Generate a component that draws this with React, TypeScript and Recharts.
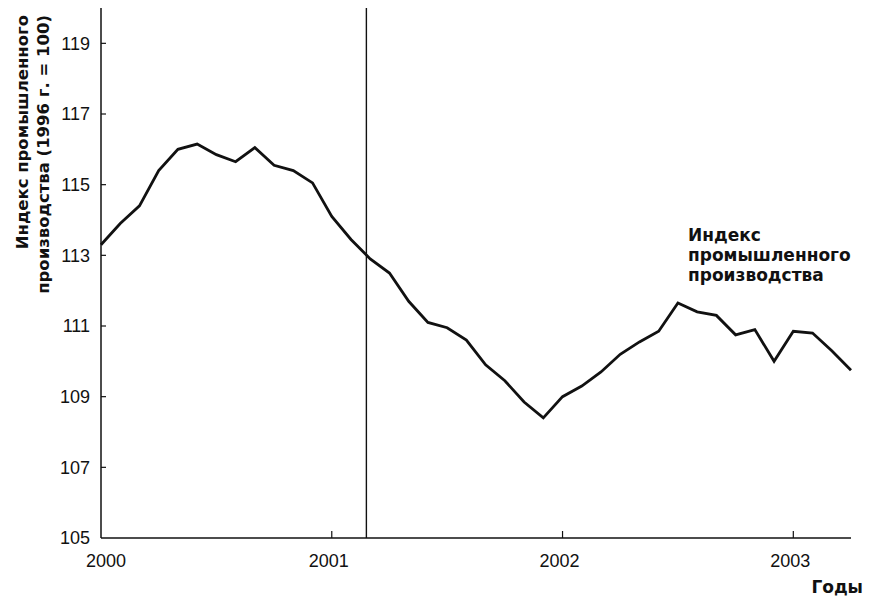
import React from 'react';
import { LineChart, Line, XAxis, YAxis, ReferenceLine } from 'recharts';

// month index from January 2000
const months = [
  0, 1, 2, 3, 4, 5, 6, 7, 8, 9, 10, 11,
  12, 13, 14, 15, 16, 17, 18, 19, 20, 21, 22, 23,
  24, 25, 26, 27, 28, 29, 30, 31, 32, 33, 34, 35,
  36, 37, 38, 39,
];
const indexValues = [
  113.3, 113.9, 114.4, 115.4, 116.0, 116.15, 115.85, 115.65, 116.05, 115.55, 115.4, 115.05,
  114.1, 113.45, 112.9, 112.5, 111.7, 111.1, 110.95, 110.6, 109.9, 109.45, 108.85, 108.4,
  109.0, 109.3, 109.7, 110.2, 110.55, 110.85, 111.65, 111.4, 111.3, 110.75, 110.9, 110.0,
  110.85, 110.8, 110.3, 109.75,
];
const yearTicks = [0, 12, 24, 36];
const yearLabels = ['2000', '2001', '2002', '2003'];
const yTicks = [105, 107, 109, 111, 113, 115, 117, 119];
const recessionStart = 13.8;

const data = months.map((m, i) => ({ month: m, value: indexValues[i] }));

const FONT = '"Liberation Sans", Arial, sans-serif';
const BOLD_FONT = '"DejaVu Sans", sans-serif';
const INK = '#111';

const YTick = (props: any) => {
  const { x, y, payload } = props;
  return (
    <g>
      {payload.value !== 105 && <line x1={x + 11} x2={x + 16} y1={y} y2={y} stroke={INK} strokeWidth={1.2} />}
      <text x={x} y={y} dy="0.36em" textAnchor="end" fontSize={18} fontFamily={FONT} fill={INK}>
        {payload.value}
      </text>
    </g>
  );
};

const XTick = (props: any) => {
  const { x, y, payload, index } = props;
  return (
    <g>
      {index > 0 && <line x1={x} x2={x} y1={y} y2={y - 7} stroke={INK} strokeWidth={1.2} />}
      <text x={x + (index === 0 ? 5 : -3)} y={y + 29} textAnchor="middle" fontSize={18} fontFamily={FONT} fill={INK}>
        {yearLabels[yearTicks.indexOf(payload.value)]}
      </text>
    </g>
  );
};

export default function App() {
  return (
    <div style={{ position: 'absolute', left: 0, top: 0, width: 870, height: 596, background: '#fff' }}>
      <LineChart width={870} height={596} data={data} margin={{ top: 8, right: 19, bottom: 0, left: 0 }}>
        <XAxis
          dataKey="month"
          type="number"
          domain={[0, 39]}
          ticks={yearTicks}
          height={58}
          tickSize={0}
          tickMargin={0}
          tickLine={false}
          tick={<XTick />}
          axisLine={{ stroke: INK, strokeWidth: 1.5 }}
        />
        <YAxis
          type="number"
          domain={[105, 120]}
          ticks={yTicks}
          width={101}
          tickSize={0}
          tickMargin={11}
          tickLine={false}
          tick={<YTick />}
          axisLine={{ stroke: INK, strokeWidth: 1.5 }}
        />
        <ReferenceLine x={recessionStart} stroke={INK} strokeWidth={1.4} />
        <Line
          type="linear"
          dataKey="value"
          stroke={INK}
          strokeWidth={2.8}
          dot={false}
          isAnimationActive={false}
        />
      </LineChart>
      <svg width={870} height={596} style={{ position: 'absolute', left: 0, top: 0, pointerEvents: 'none' }}>
        <g fontFamily={BOLD_FONT} fontWeight="bold" fontSize={16.5} fill={INK}>
          <text transform="translate(28,15) rotate(-90)" textAnchor="end">Индекс промышленного</text>
          <text transform="translate(49,15) rotate(-90)" textAnchor="end">производства (1996 г. = 100)</text>
        </g>
        <g fontFamily={BOLD_FONT} fontWeight="bold" fontSize={17} fill={INK}>
          <text x={688} y={241}>Индекс</text>
          <text x={688} y={261}>промышленного</text>
          <text x={688} y={281}>производства</text>
          <text x={863} y={593} textAnchor="end">Годы</text>
        </g>
      </svg>
    </div>
  );
}
